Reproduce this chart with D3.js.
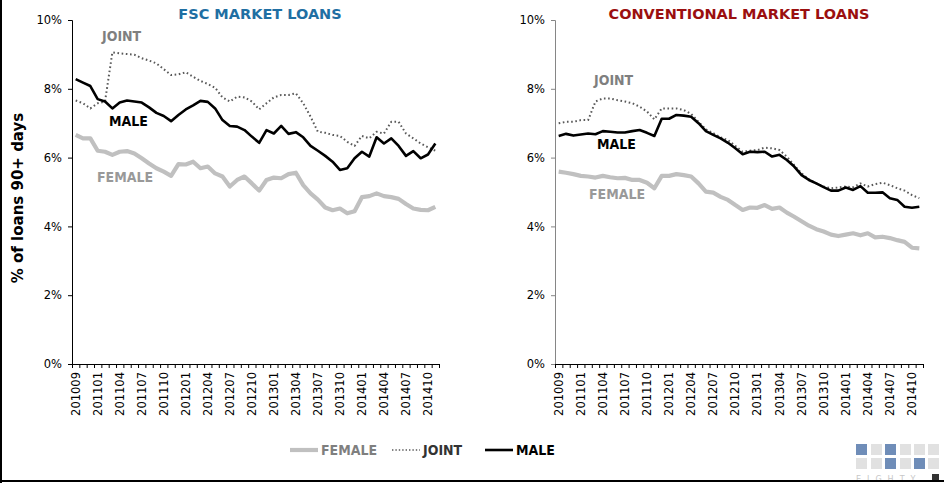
<!DOCTYPE html>
<html>
<head>
<meta charset="utf-8">
<script src="https://cdn.jsdelivr.net/npm/d3@7"></script>
<style>
  html, body { margin: 0; padding: 0; background: #fff; }
  svg { display: block; }
  .tick text { font-family: "DejaVu Sans", Verdana, sans-serif; font-size: 11.5px; fill: #000; }
  .lbl { font-family: "DejaVu Sans Condensed", "DejaVu Sans", sans-serif; font-stretch: condensed; font-weight: bold; font-size: 14px; }
</style>
</head>
<body>
<svg id="chart" width="944" height="483"></svg>
<script>
// Monthly periods (YYYYMM)
const periods = [
  "201009","201010","201011",
  "201101","201102","201103","201104","201105","201106","201107","201108","201109","201110","201111","201112",
  "201201","201202","201203","201204","201205","201206","201207","201208","201209","201210","201211","201212",
  "201301","201302","201303","201304","201305","201306","201307","201308","201309","201310","201311","201312",
  "201401","201402","201403","201404","201405","201406","201407","201408","201409","201410","201411"
];

// Share of loans 90+ days delinquent (%), FSC market
const fscFemale = [6.66,6.56,6.56,6.20,6.17,6.08,6.17,6.19,6.12,5.98,5.83,5.69,5.59,5.47,5.81,5.80,5.88,5.69,5.74,5.54,
  5.45,5.16,5.35,5.45,5.25,5.04,5.35,5.42,5.40,5.52,5.56,5.20,4.96,4.78,4.55,4.47,4.52,4.38,4.44,4.85,
  4.88,4.96,4.88,4.85,4.80,4.65,4.52,4.48,4.47,4.57];
const fscJoint = [7.66,7.58,7.43,7.58,7.63,9.06,9.03,9.01,8.99,8.89,8.82,8.74,8.57,8.40,8.42,8.48,8.35,8.23,8.14,8.03,
  7.75,7.63,7.77,7.75,7.63,7.40,7.58,7.75,7.82,7.82,7.87,7.58,7.19,6.75,6.72,6.66,6.63,6.46,6.34,6.63,
  6.56,6.75,6.70,7.04,7.04,6.70,6.56,6.41,6.30,6.20];
const fscMale = [8.28,8.18,8.08,7.70,7.63,7.43,7.60,7.66,7.63,7.60,7.46,7.30,7.21,7.06,7.24,7.40,7.52,7.65,7.62,7.43,
  7.09,6.92,6.90,6.80,6.61,6.43,6.80,6.70,6.92,6.69,6.74,6.59,6.34,6.20,6.05,5.88,5.64,5.69,5.98,6.17,
  6.03,6.59,6.41,6.56,6.34,6.05,6.19,5.98,6.09,6.41];

// Share of loans 90+ days delinquent (%), conventional market
const convFemale = [5.59,5.56,5.52,5.47,5.45,5.42,5.47,5.43,5.40,5.41,5.35,5.35,5.27,5.11,5.47,5.47,5.52,5.49,5.45,5.25,
  5.01,4.98,4.86,4.77,4.62,4.48,4.55,4.54,4.62,4.51,4.55,4.40,4.28,4.15,4.02,3.92,3.85,3.76,3.72,3.76,
  3.80,3.74,3.80,3.68,3.70,3.66,3.60,3.55,3.38,3.36];
const convJoint = [7.00,7.04,7.04,7.09,7.09,7.63,7.72,7.72,7.67,7.63,7.58,7.48,7.34,7.11,7.43,7.43,7.43,7.38,7.27,7.04,
  6.82,6.71,6.59,6.51,6.34,6.17,6.20,6.22,6.29,6.27,6.22,6.03,5.78,5.54,5.37,5.25,5.16,5.11,5.13,5.16,
  5.14,5.25,5.16,5.23,5.27,5.20,5.11,5.04,4.91,4.82];
const convMale = [6.63,6.69,6.64,6.67,6.70,6.68,6.77,6.75,6.73,6.73,6.77,6.80,6.72,6.63,7.13,7.13,7.24,7.22,7.19,7.00,
  6.77,6.66,6.56,6.43,6.27,6.10,6.17,6.16,6.17,6.03,6.08,5.93,5.74,5.49,5.35,5.25,5.14,5.04,5.04,5.13,
  5.06,5.17,4.98,4.98,4.99,4.82,4.77,4.57,4.54,4.57];

// Axis tick values
const yTicks = [0, 2, 4, 6, 8, 10];
const xLabelEvery = 3;

const svg = d3.select("#chart");

const styles = {
  FEMALE: { stroke: "#c0c0c0", width: 4.2, dash: null, text: "#7f7f7f" },
  JOINT:  { stroke: "#595959", width: 2,   dash: "1.6,2.6", text: "#333333" },
  MALE:   { stroke: "#000000", width: 2.6, dash: null, text: "#000000" }
};

const panels = [
  {
    title: "FSC MARKET LOANS", titleColor: "#1f6fa3", titleX: 260,
    x0: 72, x1: 439, yAxisColor: "#000",
    series: { FEMALE: fscFemale, JOINT: fscJoint, MALE: fscMale },
    tags: [
      { key: "JOINT", x: 102, y: 36, fill: "#7f7f7f" },
      { key: "MALE", x: 109, y: 121, fill: "#000" },
      { key: "FEMALE", x: 97, y: 177, fill: "#999999" }
    ]
  },
  {
    title: "CONVENTIONAL MARKET LOANS", titleColor: "#9b0f0f", titleX: 739,
    x0: 555, x1: 923, yAxisColor: "#868686",
    series: { FEMALE: convFemale, JOINT: convJoint, MALE: convMale },
    tags: [
      { key: "JOINT", x: 594, y: 80, fill: "#7f7f7f" },
      { key: "MALE", x: 597, y: 144, fill: "#000" },
      { key: "FEMALE", x: 589, y: 194, fill: "#999999" }
    ]
  }
];

const yTop = 20, yBottom = 364;

panels.forEach(p => {
  const g = svg.append("g");
  const x = d3.scaleBand().domain(periods).range([p.x0, p.x1]).padding(0);
  const xb = d3.scaleLinear().domain([0, periods.length]).range([p.x0, p.x1]);
  const y = d3.scaleLinear().domain([0, 10]).range([yBottom, yTop]);

  // Y axis
  const ya = g.append("g").attr("transform", `translate(${p.x0},0)`)
    .call(d3.axisLeft(y).tickValues(yTicks).tickFormat(d => d + "%").tickSize(4).tickPadding(6));
  ya.select(".domain").attr("stroke", p.yAxisColor);
  ya.selectAll(".tick line").attr("stroke", p.yAxisColor);

  // X axis: tick marks between categories
  const xt = g.append("g").attr("transform", `translate(0,${yBottom})`)
    .call(d3.axisBottom(xb).tickValues(d3.range(periods.length + 1)).tickFormat("").tickSize(4).tickSizeOuter(0));
  xt.select(".domain").attr("stroke", "#000");

  // X axis labels, rotated
  const xl = g.append("g").attr("transform", `translate(0,${yBottom})`)
    .call(d3.axisBottom(x).tickValues(periods.filter((d, i) => i % xLabelEvery === 0)).tickSize(0));
  xl.select(".domain").remove();
  xl.selectAll(".tick text")
    .attr("transform", "rotate(-90)")
    .attr("text-anchor", "end")
    .attr("x", -8).attr("y", 0).attr("dy", "0.35em");

  // Lines
  const line = d3.line()
    .x((d, i) => x(periods[i]) + x.bandwidth() / 2)
    .y(d => y(d))
    .curve(d3.curveLinear);

  ["FEMALE", "JOINT", "MALE"].forEach(k => {
    const s = styles[k];
    g.append("path")
      .datum(p.series[k])
      .attr("fill", "none")
      .attr("stroke", s.stroke)
      .attr("stroke-width", s.width)
      .attr("stroke-dasharray", s.dash)
      .attr("stroke-linejoin", "round")
      .attr("d", line);
  });

  // Series tags
  p.tags.forEach(t => {
    g.append("text").attr("class", "lbl")
      .attr("x", t.x).attr("y", t.y).attr("dy", "0.36em")
      .attr("fill", t.fill).text(t.key);
  });

  // Title
  g.append("text")
    .attr("x", p.titleX).attr("y", 19)
    .attr("text-anchor", "middle")
    .attr("font-family", "DejaVu Sans, Verdana, sans-serif")
    .attr("font-weight", "bold").attr("font-size", 14.5)
    .attr("fill", p.titleColor)
    .text(p.title);
});

// Y axis title
svg.append("text")
  .attr("transform", "translate(23,198) rotate(-90)")
  .attr("text-anchor", "middle")
  .attr("font-family", "DejaVu Sans, Verdana, sans-serif")
  .attr("font-weight", "bold").attr("font-size", 15)
  .attr("fill", "#000")
  .text("% of loans 90+ days");

// Legend
const legend = [
  { key: "FEMALE", x: 290 },
  { key: "JOINT", x: 392 },
  { key: "MALE", x: 485 }
];
const lg = svg.append("g");
legend.forEach(l => {
  const s = styles[l.key];
  lg.append("line")
    .attr("x1", l.x).attr("x2", l.x + 28).attr("y1", 450).attr("y2", 450)
    .attr("stroke", s.stroke).attr("stroke-width", l.key === "JOINT" ? 1.6 : s.width)
    .attr("stroke-dasharray", l.key === "JOINT" ? "1.4,2" : null);
  lg.append("text").attr("class", "lbl")
    .attr("x", l.x + 31).attr("y", 450).attr("dy", "0.36em")
    .attr("fill", s.text).text(l.key);
});

// Badge at bottom right
const badgeCols = [856, 871, 885, 900, 914, 928];
const badgeRows = [444, 458];
const badgeOn = [[0, 0], [0, 2], [1, 2], [1, 4]];
const bg = svg.append("g");
badgeRows.forEach((ry, r) => badgeCols.forEach((cx, c) => {
  const on = badgeOn.some(([rr, cc]) => rr === r && cc === c);
  bg.append("rect").attr("x", cx).attr("y", ry).attr("width", 11).attr("height", 11)
    .attr("fill", on ? "#6f8db8" : "#e1e1e1");
}));
bg.append("text").attr("x", 856).attr("y", 482)
  .attr("font-family", "DejaVu Sans, sans-serif").attr("font-size", 8)
  .attr("letter-spacing", 6).attr("fill", "#c8c8c8").text("EIGHTY");
bg.append("rect").attr("x", 932).attr("y", 474).attr("width", 7).attr("height", 6).attr("fill", "#333");

// Frame
svg.append("line").attr("x1", 1).attr("x2", 1).attr("y1", 0).attr("y2", 483)
  .attr("stroke", "#000").attr("stroke-width", 2);
svg.append("line").attr("x1", 0).attr("x2", 944).attr("y1", 481).attr("y2", 481)
  .attr("stroke", "#000").attr("stroke-width", 2);
</script>
</body>
</html>
